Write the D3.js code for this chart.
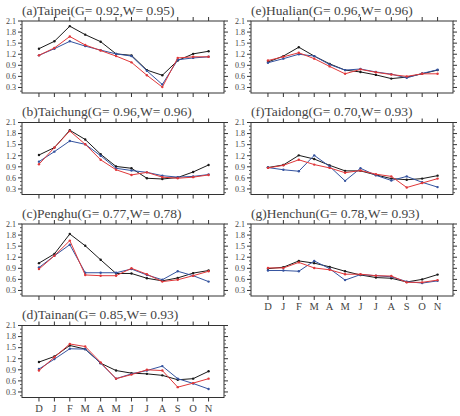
<!DOCTYPE html>
<html>
<head>
<meta charset="utf-8">
<script src="https://cdn.jsdelivr.net/npm/d3@7"></script>
<style>
  body { margin: 0; background: #fff; }
  text { font-family: "Liberation Serif", "DejaVu Serif", serif; }
</style>
</head>
<body>
<div id="chart"></div>
<script>
// Month axis and panel titles
const months = ["D", "J", "F", "M", "A", "M", "J", "J", "A", "S", "O", "N"];
const panelTags = ["(a)", "(b)", "(c)", "(d)", "(e)", "(f)", "(g)"];
const stations = ["Taipei", "Taichung", "Penghu", "Tainan", "Hualian", "Taidong", "Henchun"];
const gScores = ["0.92", "0.96", "0.77", "0.85", "0.96", "0.70", "0.78"];
const wScores = ["0.95", "0.96", "0.78", "0.93", "0.96", "0.93", "0.93"];
const yTicks = [0.3, 0.6, 0.9, 1.2, 1.5, 1.8, 2.1];

// Black line per station (same order as stations)
const blackSeries = [
  [1.35, 1.55, 1.96, 1.73, 1.54, 1.21, 1.17, 0.77, 0.63, 1.03, 1.21, 1.28],
  [1.22, 1.42, 1.89, 1.64, 1.24, 0.91, 0.86, 0.59, 0.57, 0.61, 0.76, 0.95],
  [1.04, 1.29, 1.83, 1.51, 1.13, 0.76, 0.76, 0.63, 0.56, 0.64, 0.77, 0.84],
  [1.11, 1.26, 1.56, 1.46, 1.08, 0.88, 0.81, 0.79, 0.75, 0.63, 0.66, 0.86],
  [0.99, 1.15, 1.39, 1.15, 0.94, 0.77, 0.72, 0.64, 0.54, 0.58, 0.67, 0.77],
  [0.88, 0.95, 1.21, 1.11, 0.94, 0.79, 0.79, 0.68, 0.58, 0.55, 0.58, 0.66],
  [0.89, 0.93, 1.10, 1.04, 0.94, 0.82, 0.72, 0.65, 0.63, 0.53, 0.60, 0.73]
];

// Blue line per station
const blueSeries = [
  [1.17, 1.35, 1.55, 1.42, 1.31, 1.21, 1.15, 0.75, 0.38, 1.05, 1.10, 1.13],
  [1.04, 1.31, 1.60, 1.51, 1.20, 0.86, 0.80, 0.75, 0.66, 0.62, 0.64, 0.69],
  [0.92, 1.24, 1.54, 0.78, 0.78, 0.78, 0.88, 0.72, 0.59, 0.82, 0.70, 0.54],
  [0.92, 1.19, 1.47, 1.46, 1.08, 0.66, 0.79, 0.88, 1.00, 0.66, 0.53, 0.38],
  [0.97, 1.08, 1.20, 1.15, 0.92, 0.77, 0.80, 0.72, 0.66, 0.56, 0.68, 0.78],
  [0.88, 0.82, 0.78, 1.21, 0.91, 0.52, 0.86, 0.67, 0.53, 0.64, 0.48, 0.35],
  [0.84, 0.84, 0.82, 1.10, 0.89, 0.58, 0.73, 0.70, 0.67, 0.54, 0.50, 0.56]
];

// Red line per station
const redSeries = [
  [1.17, 1.37, 1.68, 1.45, 1.30, 1.15, 0.98, 0.63, 0.31, 1.10, 1.13, 1.13],
  [0.97, 1.42, 1.87, 1.51, 1.09, 0.82, 0.68, 0.75, 0.62, 0.59, 0.62, 0.68],
  [0.88, 1.24, 1.65, 0.72, 0.70, 0.70, 0.90, 0.74, 0.54, 0.59, 0.70, 0.82],
  [0.88, 1.24, 1.60, 1.53, 1.10, 0.66, 0.77, 0.90, 0.88, 0.43, 0.54, 0.66],
  [1.03, 1.13, 1.24, 1.08, 0.87, 0.67, 0.79, 0.71, 0.65, 0.60, 0.67, 0.67],
  [0.87, 0.94, 1.09, 0.96, 0.87, 0.74, 0.80, 0.70, 0.64, 0.34, 0.46, 0.58],
  [0.91, 0.91, 1.06, 0.91, 0.86, 0.74, 0.74, 0.70, 0.69, 0.52, 0.52, 0.58]
];

const lineColors = ["#1a1a1a", "#34539f", "#e0383a"];

// Panel grid
const panel = { width: 202, height: 72 };
const colLeft = [22, 251];
const rowTop = [21, 122.5, 224, 325.5];
// panel index -> [column, row]
const slots = [[0, 0], [0, 1], [0, 2], [0, 3], [1, 0], [1, 1], [1, 2]];

const svg = d3.select("#chart")
  .append("svg")
  .attr("width", 460)
  .attr("height", 416);

const x = d3.scaleLinear()
  .domain([-1.1, 12.0])
  .range([0, panel.width]);

const y = d3.scaleLinear()
  .domain([0.15, 2.1])
  .range([panel.height, 0]);

const minorTicks = d3.range(0.2, 2.1, 0.1).filter(v => !yTicks.some(t => Math.abs(t - v) < 1e-6));

const line = d3.line()
  .x((d, i) => x(i))
  .y(d => y(d));

slots.forEach(([col, row], p) => {
  const g = svg.append("g")
    .attr("transform", "translate(" + colLeft[col] + "," + rowTop[row] + ")");

  // Frame
  g.append("rect")
    .attr("width", panel.width)
    .attr("height", panel.height)
    .attr("fill", "none")
    .attr("stroke", "#333")
    .attr("stroke-width", 1);

  // Y ticks, left and right (outward)
  g.selectAll(".ytick")
    .data(yTicks)
    .enter()
    .append("g")
    .each(function(v) {
      const t = d3.select(this);
      t.append("line").attr("x1", -4).attr("x2", 0).attr("y1", y(v)).attr("y2", y(v));
      t.append("line").attr("x1", panel.width).attr("x2", panel.width + 4).attr("y1", y(v)).attr("y2", y(v));
    })
    .attr("stroke", "#333");

  g.selectAll(".yminor")
    .data(minorTicks)
    .enter()
    .append("g")
    .each(function(v) {
      const t = d3.select(this);
      t.append("line").attr("x1", -2).attr("x2", 0).attr("y1", y(v)).attr("y2", y(v));
      t.append("line").attr("x1", panel.width).attr("x2", panel.width + 2).attr("y1", y(v)).attr("y2", y(v));
    })
    .attr("stroke", "#555");

  g.selectAll(".ylabel")
    .data(yTicks)
    .enter()
    .append("text")
    .attr("x", -6)
    .attr("y", d => y(d) + 2.8)
    .attr("text-anchor", "end")
    .attr("font-size", "8px")
    .attr("fill", "#444")
    .text(d => d.toFixed(1));

  // X ticks, top and bottom (outward)
  g.selectAll(".xtick")
    .data(months)
    .enter()
    .append("g")
    .each(function(m, i) {
      const t = d3.select(this);
      t.append("line").attr("x1", x(i)).attr("x2", x(i)).attr("y1", panel.height).attr("y2", panel.height + 4);
      t.append("line").attr("x1", x(i)).attr("x2", x(i)).attr("y1", -4).attr("y2", 0);
    })
    .attr("stroke", "#333");

  // Month labels only on the bottom panel of each column
  if (p === 3 || p === 6) {
    g.selectAll(".xlabel")
      .data(months)
      .enter()
      .append("text")
      .attr("x", (d, i) => x(i))
      .attr("y", panel.height + 14)
      .attr("text-anchor", "middle")
      .attr("font-size", "10.5px")
      .attr("fill", "#444")
      .text(d => d);
  }

  // Title
  g.append("text")
    .attr("x", 0)
    .attr("y", -6.5)
    .attr("font-size", "13.5px")
    .attr("fill", "#444")
    .text(panelTags[p] + stations[p] + "(G= " + gScores[p] + ",W= " + wScores[p] + ")");

  // Lines
  const series = [blackSeries[p], blueSeries[p], redSeries[p]];
  series.forEach((vals, k) => {
    g.append("path")
      .datum(vals)
      .attr("d", line)
      .attr("fill", "none")
      .attr("stroke", lineColors[k])
      .attr("stroke-width", 1);

    g.selectAll(".dot" + k)
      .data(vals)
      .enter()
      .append("circle")
      .attr("cx", (d, i) => x(i))
      .attr("cy", d => y(d))
      .attr("r", 1.2)
      .attr("fill", lineColors[k]);
  });
});
</script>
</body>
</html>
